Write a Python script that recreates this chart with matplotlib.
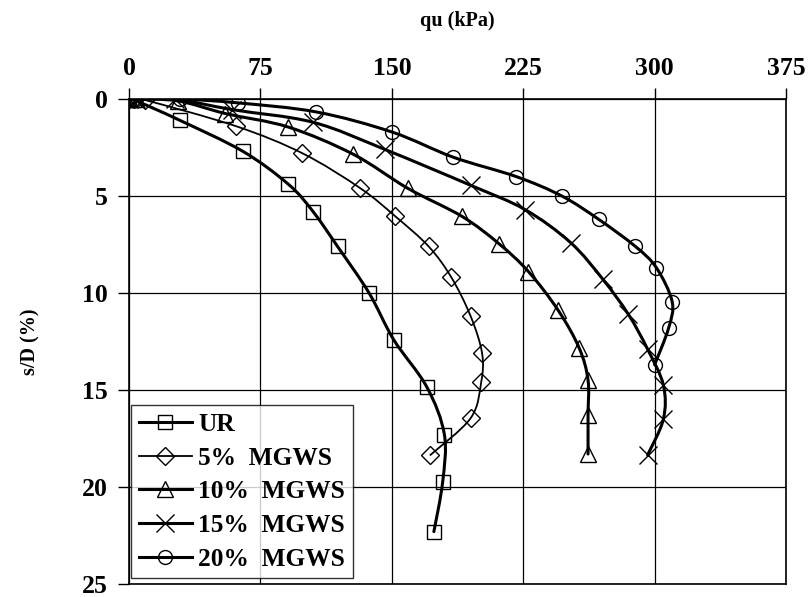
import matplotlib
matplotlib.use("Agg")
import matplotlib.pyplot as plt
from matplotlib.path import Path
from matplotlib.patches import PathPatch
from matplotlib.lines import Line2D
import numpy as np

plt.rcParams['font.family'] = ['Liberation Serif', 'DejaVu Serif']
plt.rcParams['font.weight'] = 'bold'

labels = ["UR", "5%  MGWS", "10%  MGWS", "15%  MGWS", "20%  MGWS"]

ur_qu = [0, 3, 29, 65, 91, 105, 119, 137, 151, 170, 180, 179, 174]
ur_sd = [0, 0.05, 1.1, 2.7, 4.4, 5.8, 7.6, 10.0, 12.4, 14.85, 17.3, 19.75, 22.3]

m5_qu = [0, 3, 9, 61, 99, 132, 152, 171, 184, 195, 201.5, 201, 195, 172]
m5_sd = [0, 0, 0.05, 1.4, 2.8, 4.6, 6.05, 7.6, 9.2, 11.2, 13.1, 14.6, 16.45, 18.35]

m10_qu = [0, 4, 28, 55, 91, 128, 159, 190, 211, 228, 245, 257, 262, 262, 262]
m10_sd = [0, 0, 0.1, 0.75, 1.45, 2.85, 4.6, 6.05, 7.45, 8.9, 10.9, 12.85, 14.5, 16.3, 18.3]

m15_qu = [0, 4, 26, 59, 105, 146, 195, 226, 252, 270.5, 285, 296, 305, 305, 296]
m15_sd = [0, 0, 0, 0.55, 1.2, 2.6, 4.45, 5.7, 7.4, 9.3, 11.1, 12.9, 14.75, 16.5, 18.35]

m20_qu = [0, 4, 29, 62, 107, 150, 185, 221, 247, 268, 289, 301, 310, 308, 300]
m20_sd = [0, 0, 0, 0.2, 0.67, 1.7, 3.0, 4.0, 5.0, 6.2, 7.6, 8.7, 10.45, 11.8, 13.7]

x_ticks = [0, 75, 150, 225, 300, 375]
y_ticks = [0, 5, 10, 15, 20, 25]

series = [
    (ur_qu, ur_sd, 's', 10, 2.2),
    (m5_qu, m5_sd, 'D', 9, 1.3),
    (m10_qu, m10_sd, '^', 12, 2.2),
    (m15_qu, m15_sd, 'x', 13, 2.2),
    (m20_qu, m20_sd, 'o', 10, 2.2),
]


def smooth_path(xs, ys):
    pts = np.column_stack([xs, ys]).astype(float)
    n = len(pts)
    verts = [pts[0]]
    codes = [Path.MOVETO]
    for i in range(n - 1):
        p0 = pts[i - 1] if i > 0 else pts[i]
        p1 = pts[i]
        p2 = pts[i + 1]
        p3 = pts[i + 2] if i + 2 < n else pts[i + 1]
        c1 = p1 + (p2 - p0) / 6.0
        c2 = p2 - (p3 - p1) / 6.0
        verts.extend([c1, c2, p2])
        codes.extend([Path.CURVE4] * 3)
    return Path(verts, codes)


fig = plt.figure(figsize=(8.09, 5.97), dpi=100)
ax = fig.add_axes([0.1595, 0.0218, 0.8121, 0.8124])

handles = []
for (xs, ys, mk, ms, lw), lab in zip(series, labels):
    patch = PathPatch(smooth_path(xs, ys), facecolor='none', edgecolor='black',
                      lw=lw, zorder=3, capstyle='round', joinstyle='round')
    ax.add_patch(patch)
    ax.plot(xs, ys, linestyle='none', marker=mk, markersize=ms,
            markerfacecolor='none', markeredgecolor='black',
            markeredgewidth=1.0, zorder=4)
    handles.append(Line2D([], [], color='black', lw=lw, marker=mk,
                          markersize=ms, markerfacecolor='none',
                          markeredgecolor='black', markeredgewidth=1.0))

ax.set_xlim(0, 375)
ax.set_ylim(25, 0)
ax.set_xticks(x_ticks)
ax.set_yticks(y_ticks)
ax.xaxis.tick_top()
ax.xaxis.set_label_position('top')
ax.tick_params(axis='both', direction='out', length=8, width=1.0,
               labelsize=18.5, colors='black')
ax.tick_params(axis='x', pad=6)
ax.tick_params(axis='y', pad=7)
for lab in ax.get_xticklabels() + ax.get_yticklabels():
    lab.set_fontweight('bold')

ax.grid(True, color='black', lw=0.9, zorder=0)
ax.set_axisbelow(True)
for sp in ax.spines.values():
    sp.set_color('black')
    sp.set_linewidth(1.2)

ax.set_xlabel('qu (kPa)', fontsize=14.5, fontweight='bold', labelpad=22)
ax.set_ylabel('s/D (%)', fontsize=14.5, fontweight='bold', labelpad=30)

leg = ax.legend(handles, labels, loc='lower left', bbox_to_anchor=(0.003, 0.012),
                borderaxespad=0, frameon=True, fancybox=False,
                prop={'family': ['Liberation Serif'], 'weight': 'bold', 'size': 18.3},
                handlelength=2.1, handletextpad=0.25, labelspacing=0.42,
                borderpad=0.3, edgecolor='black')
leg.get_frame().set_linewidth(1.0)
leg.set_zorder(5)

fig.savefig('out.png', dpi=100, facecolor='white')
